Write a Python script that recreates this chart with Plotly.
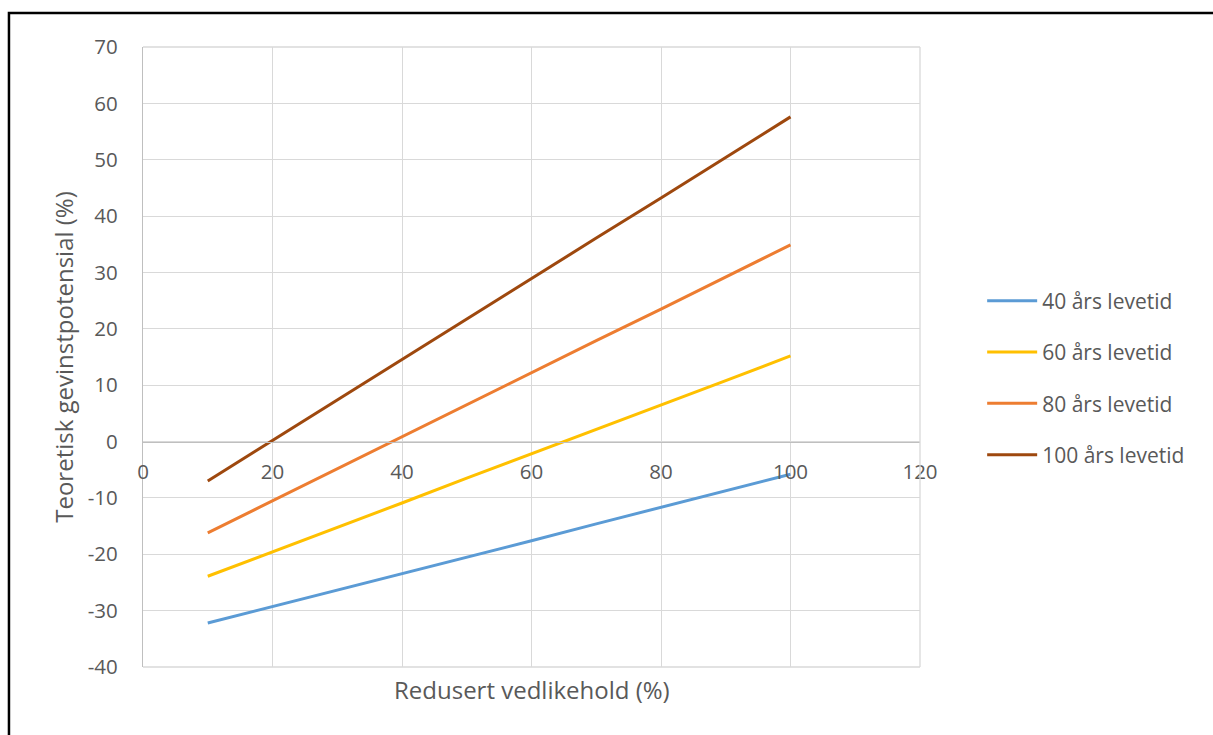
import plotly.graph_objects as go

# Reduced maintenance (%) on the x axis
redusert_vedlikehold = [10, 20, 30, 40, 50, 60, 70, 80, 90, 100]

# Theoretical gain potential (%) for each service life
levetid_40 = [-32.2, -29.3, -26.3, -23.4, -20.5, -17.6, -14.6, -11.7, -8.8, -5.8]
levetid_60 = [-23.9, -19.6, -15.2, -10.9, -6.5, -2.2, 2.1, 6.5, 10.8, 15.2]
levetid_80 = [-16.2, -10.5, -4.8, 0.8, 6.5, 12.2, 17.9, 23.5, 29.2, 34.9]
levetid_100 = [-7.0, 0.2, 7.4, 14.5, 21.7, 28.9, 36.1, 43.2, 50.4, 57.6]

serie_navn = ["40 års levetid", "60 års levetid", "80 års levetid", "100 års levetid"]
serie_farger = ["#5B9BD5", "#FFC000", "#ED7D31", "#9E480E"]

x_ticks = [0, 20, 40, 60, 80, 100, 120]
y_ticks = [-40, -30, -20, -10, 0, 10, 20, 30, 40, 50, 60, 70]
y_tick_labels = ["-40", "-30", "-20", "-10", "0", "10", "20", "30", "40", "50", "60", "70"]

FONT = "Open Sans, Calibri, sans-serif"
TEXT = "#595959"
GRID = "#D9D9D9"
TICK_SIZE = 20.5
LEGEND_SIZE = 21
TITLE_SIZE = 24

fig = go.Figure()
for i, (navn, farge, verdier) in enumerate(
    zip(serie_navn, serie_farger, [levetid_40, levetid_60, levetid_80, levetid_100])
):
    fig.add_trace(
        go.Scatter(
            x=redusert_vedlikehold,
            y=verdier,
            mode="lines",
            name=navn,
            legendgroup=f"g{i}",
            line=dict(color=farge, width=3),
        )
    )

y_min, y_max = -40, 70
zero_pos = (0 - y_min) / (y_max - y_min)

fig.update_layout(
    width=1213,
    height=735,
    margin=dict(l=143, r=293, t=47, b=68),
    paper_bgcolor="white",
    plot_bgcolor="white",
    font=dict(family=FONT, size=TICK_SIZE, color=TEXT),
    xaxis=dict(
        range=[0, 120],
        tickvals=x_ticks,
        showgrid=True,
        gridcolor=GRID,
        gridwidth=1.3,
        zeroline=False,
        showline=True,
        linecolor="#BFBFBF",
        linewidth=1.3,
        anchor="free",
        position=zero_pos,
        ticks="",
        ticklabelstandoff=12,
        tickfont=dict(family=FONT, size=TICK_SIZE, color=TEXT),
    ),
    yaxis=dict(
        range=[y_min, y_max],
        tickvals=y_ticks,
        ticktext=y_tick_labels,
        showgrid=True,
        gridcolor=GRID,
        gridwidth=1.3,
        zeroline=False,
        showline=True,
        linecolor="#BFBFBF",
        linewidth=1.3,
        ticks="",
        ticklabelstandoff=20,
        tickfont=dict(family=FONT, size=TICK_SIZE, color=TEXT),
        title=dict(
            text="Teoretisk gevinstpotensial (%)",
            font=dict(family=FONT, size=TITLE_SIZE, color=TEXT),
            standoff=7,
        ),
    ),
    legend=dict(
        x=1.08,
        y=0.466,
        xanchor="left",
        yanchor="middle",
        font=dict(family=FONT, size=LEGEND_SIZE, color=TEXT),
        itemwidth=50,
        tracegroupgap=21,
        bgcolor="rgba(0,0,0,0)",
    ),
    showlegend=True,
)

# Plot frame lines at the top, bottom and right edges of the plotting area
fig.add_shape(type="line", xref="paper", yref="paper", x0=0, x1=1, y0=1, y1=1,
              line=dict(color=GRID, width=1.3))
fig.add_shape(type="line", xref="paper", yref="paper", x0=0, x1=1, y0=0, y1=0,
              line=dict(color=GRID, width=1.3))
fig.add_shape(type="line", xref="paper", yref="paper", x0=1, x1=1, y0=0, y1=1,
              line=dict(color=GRID, width=1.3))

# Outer chart border
fig.add_shape(type="rect", xref="paper", yref="paper",
              x0=-0.1725, x1=1.40, y0=-0.14, y1=1.0548,
              line=dict(color="black", width=2.5), layer="above")

# x-axis title below the plotting area
fig.add_annotation(
    text="Redusert vedlikehold (%)",
    xref="paper", yref="paper", x=0.5, y=-0.037,
    xanchor="center", yanchor="middle", showarrow=False,
    font=dict(family=FONT, size=TITLE_SIZE, color=TEXT),
)

fig.write_html("out.html")
